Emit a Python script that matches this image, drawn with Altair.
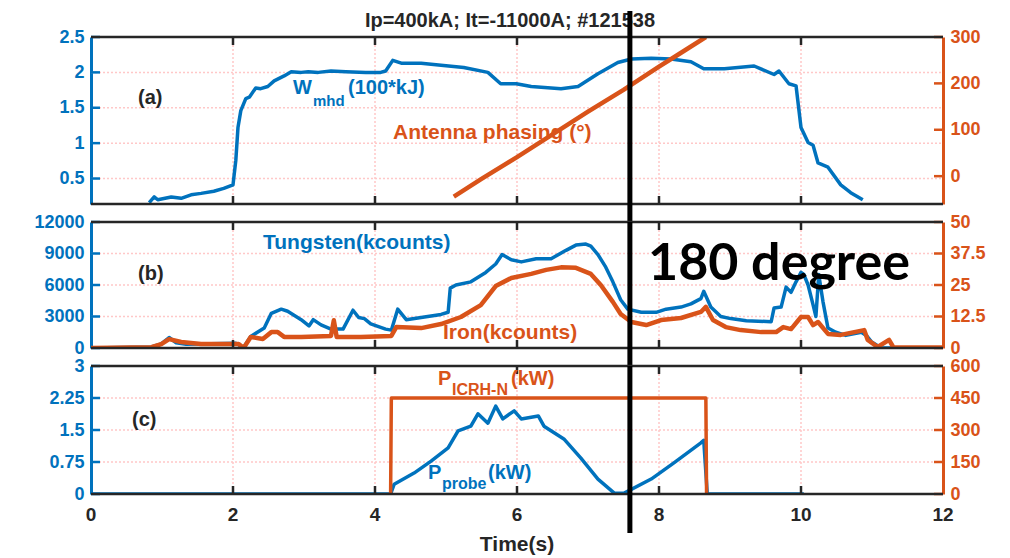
import altair as alt
import pandas as pd

BLUE = "#0072BD"
ORANGE = "#D95319"
BLACK = "#262626"
GRID = "#ffc8c8"
FONT = "Liberation Sans"

W = 852
HA, HB, HC = 167, 126, 128
GAP = 18
TICK_FONT = 18

# ---------------- data ----------------
x_ticks = [0, 2, 4, 6, 8, 10, 12]
x_tick_labels = ["0", "2", "4", "6", "8", "10", "12"]
inner_x_ticks = [2, 4, 6, 8, 10]
marker_t = [7.59]

# (a) stored energy W_mhd (100*kJ), left axis
wmhd_t = [0.82, 0.89, 0.94, 1.13, 1.27, 1.41, 1.55, 1.73, 1.87, 2.0, 2.04, 2.07, 2.11, 2.18, 2.23,
          2.32, 2.39, 2.49, 2.58, 2.72, 2.82, 2.96, 3.06, 3.2, 3.38, 3.59, 3.87, 4.08, 4.15, 4.25,
          4.37, 4.65, 4.93, 5.25, 5.59, 5.77, 5.99, 6.2, 6.62, 6.86, 7.14, 7.42, 7.61, 7.89, 8.17,
          8.45, 8.63, 8.92, 9.34, 9.62, 9.69, 9.83, 9.93, 10.0, 10.1, 10.17, 10.24, 10.38, 10.56,
          10.7, 10.87]
wmhd_v = [0.16, 0.24, 0.2, 0.24, 0.22, 0.27, 0.29, 0.32, 0.36, 0.41, 0.76, 1.22, 1.46, 1.63, 1.65,
          1.78, 1.77, 1.8, 1.88, 1.95, 2.01, 2.0, 2.01, 2.0, 2.02, 2.01, 2.0, 2.0, 2.02, 2.17,
          2.13, 2.13, 2.1, 2.07, 2.0, 1.84, 1.84, 1.8, 1.77, 1.8, 1.98, 2.14, 2.19, 2.2, 2.19,
          2.15, 2.05, 2.05, 2.09, 1.97, 2.02, 1.84, 1.81, 1.22, 1.01, 0.97, 0.72, 0.66, 0.41,
          0.3, 0.2]

# (a) antenna phasing (deg), right axis
phase_t = [5.11, 5.5, 6.0, 6.5, 7.0, 7.5, 8.0, 8.3, 8.66]
phase_v = [-44, -6, 41, 90, 139, 186, 236, 265, 300]

# (b) tungsten (kcounts), left axis
w_t = [0, 0.85, 0.99, 1.1, 1.2, 1.34, 1.69, 2.04, 2.11, 2.15, 2.25, 2.44, 2.54, 2.68, 2.77, 2.96,
       3.07, 3.13, 3.24, 3.38, 3.55, 3.69, 3.77, 3.85, 3.94, 4.15, 4.23, 4.32, 4.44, 4.65, 4.93,
       5.03, 5.06, 5.14, 5.35, 5.56, 5.7, 5.79, 5.92, 6.06, 6.27, 6.48, 6.69, 6.83, 6.97, 7.04,
       7.14, 7.25, 7.35, 7.46, 7.56, 7.75, 7.96, 8.1, 8.31, 8.45, 8.59, 8.63, 8.73, 8.87, 9.01,
       9.23, 9.58, 9.62, 9.72, 9.79, 9.86, 9.93, 10.0, 10.04, 10.1, 10.17, 10.21, 10.25, 10.31,
       10.38, 10.49, 10.63, 10.85, 10.92, 10.99, 11.13, 12.0]
w_v = [0, 100, 400, 1000, 500, 350, 400, 450, 200, 50, 1100, 1900, 3300, 3700, 3500, 2700,
       2100, 2700, 2200, 1800, 1800, 3600, 2900, 2800, 2300, 1800, 1700, 3700, 2700, 2900, 3200,
       3400, 5700, 6000, 6300, 7200, 8000, 8900, 8400, 8200, 8500, 8500, 9300, 9800, 9900, 9700,
       8900, 7700, 6300, 4600, 3700, 3400, 3400, 3700, 3900, 4200, 4700, 5400, 3900, 3000, 2800,
       2600, 2500, 3800, 3900, 5800, 5300, 6300, 7200, 7000, 6000, 4100, 3000, 7000, 4400,
       1900, 1500, 1200, 1500, 1200, 600, 0, 0]

# (b) iron (kcounts), right axis
fe_t = [0, 0.85, 0.99, 1.1, 1.27, 1.55, 2.08, 2.15, 2.25, 2.42, 2.54, 2.63, 2.72, 2.96, 3.38,
        3.42, 3.46, 3.8, 4.23, 4.3, 4.65, 4.93, 5.21, 5.49, 5.7, 5.92, 6.2, 6.41, 6.62, 6.83,
        7.04, 7.18, 7.35, 7.46, 7.61, 7.82, 8.03, 8.31, 8.59, 8.66, 8.76, 8.94, 9.15, 9.44, 9.65,
        9.75, 9.86, 10.0, 10.1, 10.17, 10.24, 10.38, 10.56, 10.89, 10.94, 11.08, 11.24, 11.3,
        12.0]
fe_v = [0, 0.3, 1.5, 3.5, 2.4, 1.6, 1.6, 0, 4.4, 3.6, 6.3, 6.3, 4.4, 4.4, 4.8,
        11, 4.4, 4.4, 4.8, 8.3, 7.9, 9.5, 12.3, 17, 24.6, 27.8, 29.4, 31, 32, 31.8,
        29.4, 25, 18.3, 13.5, 10.3, 9.1, 11.1, 11.9, 14.3, 16.3, 11.1, 8.3, 7.1, 6.3, 6.3,
        8.3, 7.5, 12.3, 12.3, 9.1, 10.3, 5.6, 5.2, 7.1, 3.2, 0.4, 3.2, 0.3,
        0.2]

# (c) probe power, left axis
probe_t = [0, 4.22, 4.27, 4.55, 4.79, 5.03, 5.17, 5.35, 5.45, 5.59, 5.7, 5.8, 5.96, 6.06, 6.3,
           6.38, 6.66, 6.9, 7.14, 7.37, 7.51, 7.89, 8.21, 8.59, 8.63, 8.68, 10.04]
probe_v = [0, 0, 0.23, 0.49, 0.77, 1.08, 1.48, 1.59, 1.88, 1.66, 2.06, 1.76, 1.95, 1.76, 1.83,
           1.59, 1.29, 0.84, 0.35, 0.02, 0.02, 0.35, 0.73, 1.2, 1.26, 0, 0]

# (c) ICRH power (kW), right axis
icrh_t = [4.22, 4.23, 8.66, 8.67]
icrh_v = [0, 450, 450, 0]

# ---------------- helpers ----------------
XS = alt.Scale(domain=[0, 12], nice=False, zero=False)
ONE = pd.DataFrame({"a": [0]})


def text(s, x, y, size=21, color=BLACK, align="left", font=FONT):
    return alt.Chart(ONE).mark_text(text=s, font=font, fontWeight="bold", fontSize=size,
                                    color=color, align=align, baseline="middle").encode(
        x=alt.value(x), y=alt.value(y))


def yscale(domain):
    return alt.Scale(domain=domain, nice=False, zero=False)


def side(t, v, domain, vals, color, orient, width):
    df = pd.DataFrame({"t": t, "v": v})
    yaxis = alt.Axis(orient=orient, values=vals, labelExpr="'' + datum.value", grid=False,
                     domainColor=color, domainWidth=3, ticks=False, labelColor=color,
                     labelFont=FONT, labelFontWeight="bold", labelFontSize=TICK_FONT,
                     labelPadding=7, title=None)
    line = alt.Chart(df).mark_line(color=color, strokeWidth=width, clip=True,
                                   strokeJoin="round").encode(
        x=alt.X("t:Q", scale=XS, axis=None),
        y=alt.Y("v:Q", scale=yscale(domain), axis=yaxis))
    tdf = pd.DataFrame({"v": vals})
    x0, x1 = (0, 9) if orient == "left" else (W - 9, W)
    tk = alt.Chart(tdf).mark_rule(color=color, strokeWidth=2.5).encode(
        y=alt.Y("v:Q", scale=yscale(domain), axis=None), x=alt.value(x0), x2=alt.value(x1))
    return [line, tk]


def grid(h, domain, vals):
    gdf = pd.DataFrame({"v": vals[1:-1]})
    hg = alt.Chart(gdf).mark_rule(color=GRID, strokeWidth=1.5, strokeDash=[2, 2]).encode(
        y=alt.Y("v:Q", scale=yscale(domain), axis=None), x=alt.value(0), x2=alt.value(W))
    vg = alt.Chart(pd.DataFrame({"t": inner_x_ticks})).mark_rule(
        color=GRID, strokeWidth=1.5, strokeDash=[2, 2]).encode(
        x=alt.X("t:Q", scale=XS, axis=None), y=alt.value(0), y2=alt.value(h))
    return [hg, vg]


def frame(h, y0, y1, show_labels):
    tdf = pd.DataFrame({"t": inner_x_ticks})
    bot = alt.Chart(tdf).mark_rule(color=BLACK, strokeWidth=2.5).encode(
        x=alt.X("t:Q", scale=XS, axis=None), y=alt.value(h), y2=alt.value(h - 8))
    top = alt.Chart(tdf).mark_rule(color=BLACK, strokeWidth=2.5).encode(
        x=alt.X("t:Q", scale=XS, axis=None), y=alt.value(0), y2=alt.value(8))
    border_t = alt.Chart(ONE).mark_rule(color=BLACK, strokeWidth=2.5).encode(
        x=alt.value(0), x2=alt.value(W), y=alt.value(0))
    border_b = alt.Chart(ONE).mark_rule(color=BLACK, strokeWidth=2.5).encode(
        x=alt.value(0), x2=alt.value(W), y=alt.value(h))
    layers = [border_t, border_b, bot, top]
    if show_labels:
        ldf = pd.DataFrame({"t": x_ticks, "lab": x_tick_labels})
        labs = alt.Chart(ldf).mark_text(font=FONT, fontWeight="bold", fontSize=19, color=BLACK,
                                        baseline="middle").encode(
            x=alt.X("t:Q", scale=XS, axis=None), y=alt.value(h + 21), text="lab:N")
        layers += [labs, text("Time(s)", W / 2, h + 51, 21, BLACK, "center")]
    vline = alt.Chart(pd.DataFrame({"t": marker_t})).mark_rule(
        color="black", strokeWidth=5).encode(
        x=alt.X("t:Q", scale=XS, axis=None), y=alt.value(y0), y2=alt.value(y1))
    return layers, vline


# ---------------- panel (a) ----------------
fa, va = frame(HA, -26, HA + GAP + 1, False)
pa = alt.layer(
    *grid(HA, [0.14, 2.5], [0.14, 0.5, 1, 1.5, 2, 2.5]),
    *side(wmhd_t, wmhd_v, [0.14, 2.5], [0.5, 1, 1.5, 2, 2.5], BLUE, "left", 3.5),
    *side(phase_t, phase_v, [-60, 300], [0, 100, 200, 300], ORANGE, "right", 4.5),
    *fa,
    text("(a)", 47, 61, 20),
    text("W", 202, 51, 20, BLUE),
    text("mhd", 222, 64, 15, BLUE),
    text("(100*kJ)", 257, 51, 20, BLUE),
    text("Antenna phasing (°)", 302, 96, 21, ORANGE),
    text("Ip=400kA;  It=-11000A; #121538", 419, -16, 20, BLACK, "center"),
    va,
).resolve_scale(y="independent").properties(width=W, height=HA)

# ---------------- panel (b) ----------------
fb, vb = frame(HB, 0, HB + GAP + 1, False)
pb = alt.layer(
    *grid(HB, [0, 12000], [0, 3000, 6000, 9000, 12000]),
    *side(w_t, w_v, [0, 12000], [0, 3000, 6000, 9000, 12000], BLUE, "left", 3.5),
    *side(fe_t, fe_v, [0, 50], [0, 12.5, 25, 37.5, 50], ORANGE, "right", 4.5),
    *fb,
    text("(b)", 47, 52, 20),
    text("Tungsten(kcounts)", 172, 21, 21, BLUE),
    text("Iron(kcounts)", 352, 111, 21, ORANGE),
    text("180 degree", 557, 42, 52, "black", "left", "Lato"),
    vb,
).resolve_scale(y="independent").properties(width=W, height=HB)

# ---------------- panel (c) ----------------
fc, vc = frame(HC, 0, 167, True)
pc = alt.layer(
    *grid(HC, [0, 3], [0, 0.75, 1.5, 2.25, 3]),
    *side(probe_t, probe_v, [0, 3], [0, 0.75, 1.5, 2.25, 3], BLUE, "left", 3.5),
    *side(icrh_t, icrh_v, [0, 600], [0, 150, 300, 450, 600], ORANGE, "right", 3.5),
    *fc,
    text("(c)", 41, 54, 20),
    text("P", 347, 13, 20, ORANGE),
    text("ICRH-N", 361, 24, 16, ORANGE),
    text("(kW)", 420, 13, 20, ORANGE),
    text("P", 337, 107, 20, BLUE),
    text("probe", 351, 118, 16, BLUE),
    text("(kW)", 397, 107, 20, BLUE),
    vc,
).resolve_scale(y="independent").properties(width=W, height=HC)

chart = alt.vconcat(pa, pb, pc, spacing=GAP, bounds="flush").properties(
    padding={"left": 25, "top": 0, "right": 5, "bottom": 5}
).configure_view(stroke=None)

chart.save("out.html", embed_options={"renderer": "svg", "actions": False})
